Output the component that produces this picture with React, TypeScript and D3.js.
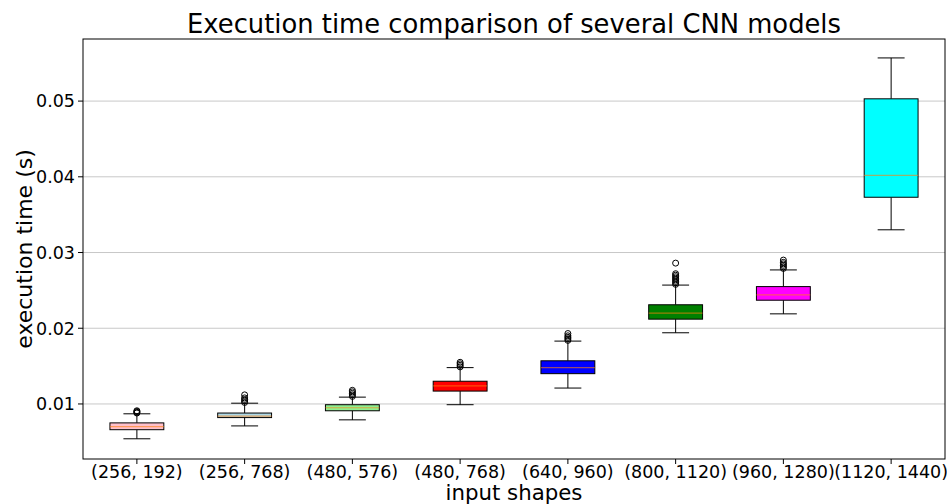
import React from 'react';
import * as d3 from 'd3';

const categories = ['(256, 192)', '(256, 768)', '(480, 576)', '(480, 768)', '(640, 960)', '(800, 1120)', '(960, 1280)', '(1120, 1440)'];
const colors = ['pink', 'lightblue', 'lightgreen', 'red', 'blue', 'green', 'magenta', 'cyan'];
const whiskerLow = [0.0054, 0.0071, 0.0079, 0.0099, 0.0121, 0.0194, 0.0219, 0.0330];
const q1 = [0.0066, 0.0082, 0.0091, 0.0117, 0.0140, 0.0212, 0.0237, 0.0373];
const median = [0.0070, 0.0084, 0.0095, 0.0124, 0.0148, 0.0220, 0.0244, 0.0402];
const q3 = [0.0075, 0.0088, 0.0099, 0.0130, 0.0157, 0.0231, 0.0255, 0.0503];
const whiskerHigh = [0.0087, 0.0101, 0.0109, 0.0148, 0.0183, 0.0257, 0.0277, 0.0557];
const outliers = [
  [0.0088, 0.0089, 0.0090, 0.0091],
  [0.0102, 0.0104, 0.0106, 0.0108, 0.0112],
  [0.0110, 0.0112, 0.0114, 0.0116, 0.0118],
  [0.0149, 0.0151, 0.0153, 0.0155],
  [0.0184, 0.0186, 0.0188, 0.0190, 0.0193],
  [0.0258, 0.0260, 0.0262, 0.0264, 0.0266, 0.0268, 0.0270, 0.0272, 0.0286],
  [0.0279, 0.0281, 0.0283, 0.0285, 0.0287, 0.0290],
  [],
];
const yTicks = [0.01, 0.02, 0.03, 0.04, 0.05];

const W = 947;
const H = 504;
const margin = { top: 39, right: 2, bottom: 45, left: 83 };
const font = 'DejaVu Sans, sans-serif';

export default function App() {
  const x = d3.scaleBand().domain(categories).range([margin.left, W - margin.right]);
  const y = d3.scaleLinear().domain([0.00273, 0.0582]).range([H - margin.bottom, margin.top]);
  const bw = x.bandwidth() * 0.5;

  return (
    <svg width={W} height={H} style={{ position: 'absolute', left: 0, top: 0, background: '#fff' }} fontFamily={font}>
      <text x={514} y={33} fontSize={25.8} textAnchor="middle" fill="#000">Execution time comparison of several CNN models</text>
      {yTicks.map(t => (
        <g key={t}>
          <line x1={margin.left} x2={W - margin.right} y1={y(t)} y2={y(t)} stroke="#c8c8c8" strokeWidth={1} />
          <line x1={margin.left - 5} x2={margin.left} y1={y(t)} y2={y(t)} stroke="#000" />
          <text x={margin.left - 8} y={y(t)} dy="0.36em" fontSize={17.5} textAnchor="end" fill="#000">{t.toFixed(2)}</text>
        </g>
      ))}
      {categories.map((c, i) => {
        const cx = x(c)! + x.bandwidth() / 2;
        return (
          <g key={c}>
            <line x1={cx} x2={cx} y1={y(whiskerLow[i])} y2={y(q1[i])} stroke="#000" />
            <line x1={cx} x2={cx} y1={y(q3[i])} y2={y(whiskerHigh[i])} stroke="#000" />
            <line x1={cx - bw / 4} x2={cx + bw / 4} y1={y(whiskerLow[i])} y2={y(whiskerLow[i])} stroke="#000" />
            <line x1={cx - bw / 4} x2={cx + bw / 4} y1={y(whiskerHigh[i])} y2={y(whiskerHigh[i])} stroke="#000" />
            <rect x={cx - bw / 2} width={bw} y={y(q3[i])} height={y(q1[i]) - y(q3[i])} fill={colors[i]} stroke="#000" strokeWidth={1} />
            <line x1={cx - bw / 2} x2={cx + bw / 2} y1={y(median[i])} y2={y(median[i])} stroke="#ff7f0e" strokeOpacity={0.6} strokeWidth={1.2} />
            {outliers[i].map((o, j) => (
              <circle key={j} cx={cx} cy={y(o)} r={3} fill="none" stroke="#000" strokeWidth={1} />
            ))}
            <line x1={cx} x2={cx} y1={H - margin.bottom} y2={H - margin.bottom + 5} stroke="#000" />
            <text x={cx} y={H - margin.bottom + 19} fontSize={17.5} textAnchor="middle" fill="#000">{c}</text>
          </g>
        );
      })}
      <rect x={margin.left} y={margin.top} width={W - margin.right - margin.left} height={H - margin.bottom - margin.top} fill="none" stroke="#000" strokeWidth={1} />
      <text x={514} y={500} fontSize={21.3} textAnchor="middle" fill="#000">input shapes</text>
      <text transform={`translate(32, ${(margin.top + H - margin.bottom) / 2}) rotate(-90)`} fontSize={22} textAnchor="middle" fill="#000">execution time (s)</text>
    </svg>
  );
}
